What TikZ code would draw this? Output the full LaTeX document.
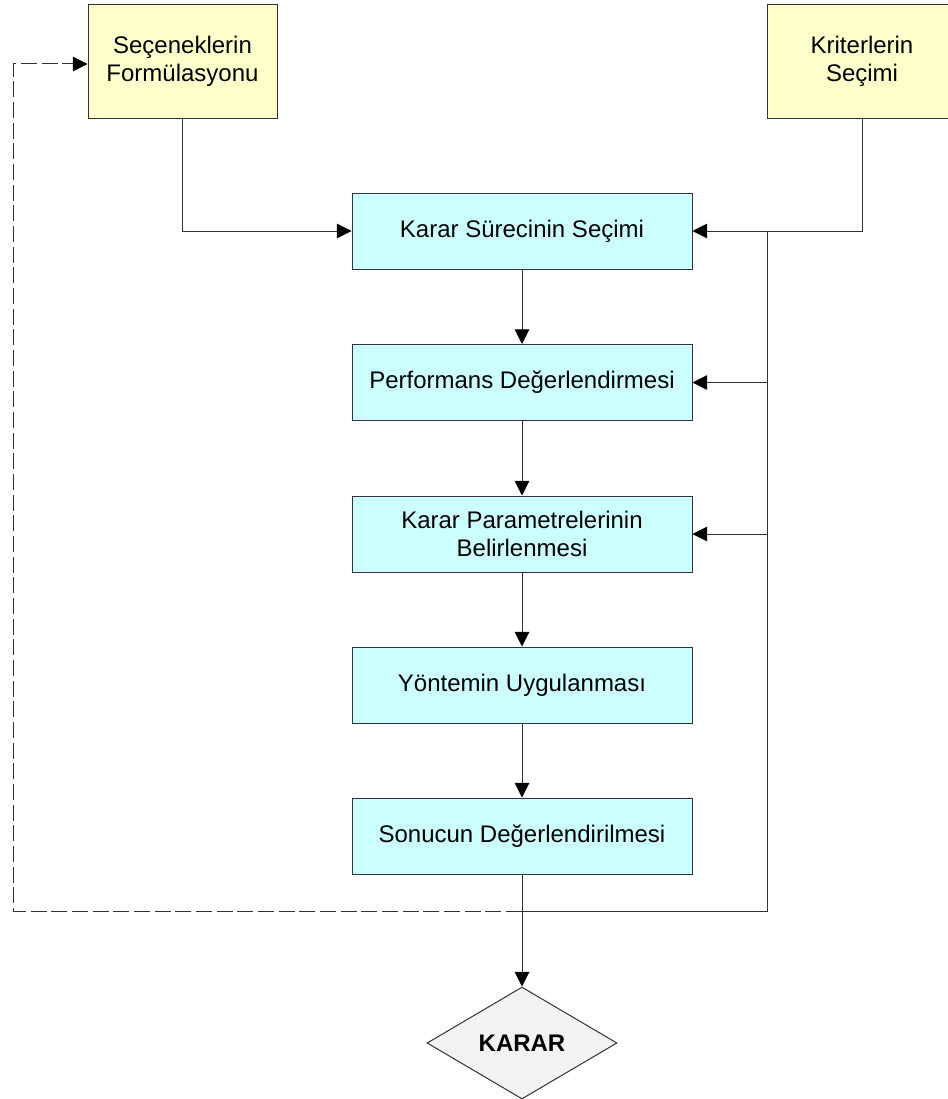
\documentclass[tikz,border=0pt]{standalone}
\usepackage{fontspec}
\setmainfont{Liberation Sans}
\usetikzlibrary{arrows.meta,shapes.geometric}
\definecolor{inputfill}{HTML}{FFFFCC}
\definecolor{stepfill}{HTML}{CCFFFF}
\definecolor{decfill}{HTML}{F2F2F2}
\definecolor{edge}{HTML}{333333}
\begin{document}
\begin{tikzpicture}[x=0.75pt,y=-0.75pt,
  font=\fontsize{18pt}{21pt}\selectfont,
  inputbox/.style={draw=edge,line width=0.75pt,fill=inputfill,align=center,
    minimum width=141.75pt,minimum height=84.75pt,inner sep=0pt},
  stepbox/.style={draw=edge,line width=0.75pt,fill=stepfill,align=center,
    minimum width=255pt,minimum height=57pt,inner sep=0pt},
  decbox/.style={draw=edge,line width=0.75pt,fill=decfill,diamond,aspect=1.7,
    minimum width=142.5pt,minimum height=84pt,inner sep=0pt,font=\fontsize{18pt}{21pt}\selectfont\bfseries},
  link/.style={draw=edge,line width=0.75pt},
  arr/.style={link,-{Triangle[length=11pt,width=11pt,color=black]}},
  dasharr/.style={arr,dash pattern=on 12pt off 3.5pt}]
  \useasboundingbox (0,0) rectangle (948,1099);

  % input boxes
  \node[inputbox] (sec) at (182.5,61.5) {Seçeneklerin\\Formülasyonu};
  \node[inputbox] (kri) at (862,61.5) {Kriterlerin\\Seçimi};

  % process steps
  \node[stepbox] (k1) at (522,231) {Karar Sürecinin Seçimi};
  \node[stepbox] (k2) at (522,382.5) {Performans Değerlendirmesi};
  \node[stepbox] (k3) at (522,534) {Karar Parametrelerinin\\Belirlenmesi};
  \node[stepbox] (k4) at (522,685) {Yöntemin Uygulanması};
  \node[stepbox] (k5) at (522,836) {Sonucun Değerlendirilmesi};

  % decision
  \node[decbox] (dec) at (522,1043) {KARAR};

  % bus on the right and feedback corners
  \coordinate (bustop) at (767,231);
  \coordinate (busbot) at (767,911);
  \coordinate (fbjoin) at (522,911);
  \coordinate (fbcorner) at (13,911);
  \coordinate (fbtop) at (13,64);

  % inputs into the first step
  \draw[arr] (sec.south) |- (k1.west);
  \draw[arr] (kri.south) |- (k1.east);

  % main chain
  \draw[arr] (k1) -- (k2);
  \draw[arr] (k2) -- (k3);
  \draw[arr] (k3) -- (k4);
  \draw[arr] (k4) -- (k5);
  \draw[arr] (k5) -- (dec);

  % right-hand bus feeding the steps
  \draw[link] (bustop) -- (busbot) -- (fbjoin);
  \draw[arr] (k2.east -| bustop) -- (k2.east);
  \draw[arr] (k3.east -| bustop) -- (k3.east);

  % dashed feedback to the alternatives
  \draw[dasharr] (fbjoin) -- (fbcorner) -- (fbtop) -- (fbtop -| sec.west);
\end{tikzpicture}
\end{document}
